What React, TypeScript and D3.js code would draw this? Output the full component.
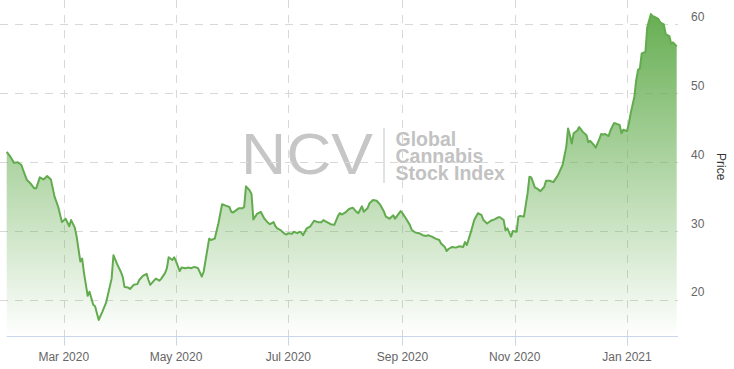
import React from "react";
import * as d3 from "d3";

const dates: string[] = [
  "2020-01-30","2020-02-01","2020-02-03","2020-02-05","2020-02-07","2020-02-08","2020-02-10","2020-02-12","2020-02-14","2020-02-15",
  "2020-02-17","2020-02-19","2020-02-21","2020-02-23","2020-02-25","2020-02-27","2020-02-29","2020-03-02","2020-03-04","2020-03-05",
  "2020-03-07","2020-03-08","2020-03-10","2020-03-11","2020-03-12","2020-03-14","2020-03-15","2020-03-17","2020-03-18","2020-03-20",
  "2020-03-22","2020-03-24","2020-03-27","2020-03-28","2020-03-30","2020-04-01","2020-04-02","2020-04-03","2020-04-05","2020-04-06",
  "2020-04-08","2020-04-10","2020-04-11","2020-04-13","2020-04-15","2020-04-16","2020-04-17","2020-04-19","2020-04-20","2020-04-22",
  "2020-04-23","2020-04-25","2020-04-26","2020-04-27","2020-04-29","2020-04-30","2020-05-01","2020-05-03","2020-05-04","2020-05-06",
  "2020-05-08","2020-05-09","2020-05-11","2020-05-13","2020-05-15","2020-05-16","2020-05-19","2020-05-20","2020-05-22","2020-05-24",
  "2020-05-26","2020-05-28","2020-05-30","2020-05-31","2020-06-01","2020-06-02","2020-06-04","2020-06-06","2020-06-07","2020-06-08",
  "2020-06-10","2020-06-11","2020-06-12","2020-06-14","2020-06-16","2020-06-18","2020-06-20","2020-06-21","2020-06-23","2020-06-24",
  "2020-06-25","2020-06-27","2020-06-29","2020-06-30","2020-07-01","2020-07-03","2020-07-04","2020-07-06","2020-07-07","2020-07-08",
  "2020-07-09","2020-07-11","2020-07-13","2020-07-15","2020-07-17","2020-07-19","2020-07-20","2020-07-22","2020-07-24","2020-07-26",
  "2020-07-28","2020-07-29","2020-07-30","2020-08-01","2020-08-03","2020-08-05","2020-08-07","2020-08-08","2020-08-10","2020-08-11",
  "2020-08-13","2020-08-14","2020-08-16","2020-08-18","2020-08-20","2020-08-22","2020-08-23","2020-08-25","2020-08-27","2020-08-28",
  "2020-08-31","2020-09-01","2020-09-03","2020-09-05","2020-09-06","2020-09-08","2020-09-10","2020-09-12","2020-09-14","2020-09-15",
  "2020-09-17","2020-09-19","2020-09-21","2020-09-22","2020-09-24","2020-09-25","2020-09-26","2020-09-28","2020-09-30","2020-10-02",
  "2020-10-04","2020-10-05","2020-10-06","2020-10-08","2020-10-10","2020-10-12","2020-10-14","2020-10-15","2020-10-17","2020-10-19",
  "2020-10-21","2020-10-23","2020-10-24","2020-10-26","2020-10-27","2020-10-28","2020-10-30","2020-10-31","2020-11-02","2020-11-03",
  "2020-11-04","2020-11-06","2020-11-08","2020-11-09","2020-11-10","2020-11-12","2020-11-13","2020-11-15","2020-11-17","2020-11-18",
  "2020-11-20","2020-11-22","2020-11-24","2020-11-25","2020-11-27","2020-11-29","2020-11-30","2020-12-01","2020-12-02","2020-12-03",
  "2020-12-05","2020-12-06","2020-12-08","2020-12-10","2020-12-11","2020-12-12","2020-12-14","2020-12-15","2020-12-17","2020-12-18",
  "2020-12-19","2020-12-20","2020-12-22","2020-12-23","2020-12-25","2020-12-26","2020-12-28","2020-12-29","2020-12-30","2021-01-01",
  "2021-01-02","2021-01-03","2021-01-05","2021-01-06","2021-01-07","2021-01-08","2021-01-09","2021-01-11","2021-01-12","2021-01-14",
  "2021-01-15","2021-01-16","2021-01-18","2021-01-19","2021-01-21","2021-01-22","2021-01-24","2021-01-25","2021-01-26","2021-01-28",
];

const prices: number[] = [
  41.5, 40.8, 39.9, 40.0, 39.6, 38.8, 37.4, 36.9, 36.2, 36.2,
  37.8, 37.5, 38.0, 37.5, 35.0, 33.5, 31.3, 31.8, 30.7, 31.6,
  30.5, 29.2, 25.6, 26.0, 23.9, 20.6, 21.2, 19.3, 19.1, 17.1,
  18.3, 19.6, 23.1, 26.5, 25.2, 24.1, 23.4, 21.9, 21.8, 21.6,
  22.2, 22.3, 22.9, 23.5, 23.8, 22.9, 22.2, 22.8, 23.1, 22.8,
  23.1, 23.9, 24.6, 26.2, 25.8, 26.2, 25.6, 24.2, 24.7, 24.6,
  24.7, 24.6, 24.8, 24.6, 23.4, 24.1, 28.9, 28.7, 28.9, 31.1,
  33.9, 33.7, 33.5, 32.8, 32.7, 32.9, 33.3, 33.3, 33.5, 36.5,
  35.9, 35.4, 31.7, 32.5, 32.8, 31.8, 31.2, 31.0, 31.3, 30.7,
  30.4, 30.1, 29.6, 29.5, 29.7, 29.6, 29.9, 29.7, 29.9, 29.8,
  29.4, 30.4, 30.7, 31.5, 31.3, 31.3, 31.6, 31.3, 31.0, 30.9,
  32.2, 32.6, 32.4, 32.7, 33.2, 33.4, 32.8, 32.6, 33.6, 32.8,
  33.3, 34.0, 34.5, 34.4, 33.8, 32.8, 32.1, 31.8, 32.3, 31.8,
  32.9, 32.6, 31.8, 30.9, 30.2, 29.8, 29.7, 29.4, 29.3, 29.4,
  29.2, 28.9, 28.7, 28.2, 27.7, 27.1, 27.4, 27.7, 27.6, 27.8,
  27.7, 28.4, 28.0, 29.7, 31.6, 32.6, 32.3, 31.6, 31.1, 31.5,
  31.7, 32.0, 32.0, 31.6, 30.1, 30.4, 29.2, 30.0, 29.9, 32.1,
  32.2, 32.1, 35.5, 37.9, 37.8, 36.3, 36.2, 35.8, 36.4, 37.3,
  37.3, 37.1, 37.9, 38.4, 39.6, 42.2, 44.9, 43.9, 42.7, 44.2,
  44.6, 45.1, 44.4, 43.9, 42.9, 43.1, 42.5, 42.1, 43.4, 44.1,
  44.0, 44.1, 43.8, 44.6, 45.7, 45.6, 45.4, 44.2, 44.7, 44.5,
  45.6, 47.1, 49.5, 51.9, 53.4, 53.6, 55.8, 56.0, 59.6, 61.5,
  61.2, 61.1, 60.8, 60.3, 60.0, 58.6, 58.3, 57.2, 57.4, 56.8,
];

const yTicks: number[] = [20, 30, 40, 50, 60];
const yDomain: number[] = [14.7, 63.54];
const xDomain: string[] = ["2020-01-30", "2021-01-28"];
const yAxisTitle = "Price";
const watermarkBig = "NCV";
const watermarkLines: string[] = ["Global", "Cannabis", "Stock Index"];

const W = 734;
const H = 369;
const plotLeft = 6.7;
const plotRight = 676.7;
const plotTop = 0;
const plotBottom = 336.5;
const FONT = "'Liberation Sans', Arial, Helvetica, sans-serif";

export default function App() {
  const parse = d3.utcParse("%Y-%m-%d");
  const n = Math.min(dates.length, prices.length);
  const data = d3.range(n).map((i) => ({ d: parse(dates[i]) as Date, v: prices[i] }));

  const x = d3
    .scaleUtc()
    .domain([parse(xDomain[0]) as Date, parse(xDomain[1]) as Date])
    .range([plotLeft, plotRight]);
  const y = d3.scaleLinear().domain(yDomain).range([plotBottom, plotTop]);

  const xTicks = x.ticks(d3.utcMonth.every(2) as any);
  const fmt = d3.utcFormat("%b %Y");

  const line = d3
    .line<{ d: Date; v: number }>()
    .x((p) => x(p.d))
    .y((p) => y(p.v));
  const area = d3
    .area<{ d: Date; v: number }>()
    .x((p) => x(p.d))
    .y0(plotBottom)
    .y1((p) => y(p.v));

  const maxV = d3.max(data, (p) => p.v) as number;
  const gridColor = "#d8d8d8";
  const dash = "8,7";

  return (
    <svg
      width={W}
      height={H}
      style={{ position: "absolute", left: 0, top: 0, background: "#fff" }}
      fontFamily={FONT}
    >
      <defs>
        <linearGradient id="areaGrad" gradientUnits="userSpaceOnUse" x1={0} y1={y(maxV)} x2={0} y2={plotBottom}>
          <stop offset="0" stopColor="#64ad4f" stopOpacity={0.98} />
          <stop offset="1" stopColor="#64ad4f" stopOpacity={0} />
        </linearGradient>
      </defs>

      {/* watermark */}
      <g>
        <text
          x={241}
          y={173.5}
          fontSize={58}
          fill="#c6c6c6"
          textLength={132}
          lengthAdjust="spacingAndGlyphs"
        >
          {watermarkBig}
        </text>
        <line x1={384} x2={384} y1={128} y2={183} stroke="#cfcfcf" strokeWidth={1.2} />
        {watermarkLines.map((t, i) => (
          <text key={t} x={395.5} y={146 + i * 17} fontSize={19.5} fontWeight="bold" fill="#c2c2c2">
            {t}
          </text>
        ))}
      </g>

      {/* horizontal gridlines */}
      {yTicks.map((t) => (
        <line
          key={"h" + t}
          x1={0}
          x2={678}
          y1={Math.round(y(t)) + 0.5}
          y2={Math.round(y(t)) + 0.5}
          stroke={gridColor}
          strokeWidth={1}
          strokeDasharray={dash}
        />
      ))}
      {/* vertical gridlines */}
      {xTicks.map((t) => (
        <line
          key={"v" + +t}
          x1={Math.round(x(t)) + 0.5}
          x2={Math.round(x(t)) + 0.5}
          y1={0}
          y2={plotBottom}
          stroke={gridColor}
          strokeWidth={1}
          strokeDasharray={dash}
        />
      ))}

      {/* area + line */}
      <path d={area(data) as string} fill="url(#areaGrad)" />
      <path d={line(data) as string} fill="none" stroke="#62ab4e" strokeWidth={2} strokeLinejoin="round" />

      {/* x axis */}
      <line x1={plotLeft} x2={678} y1={plotBottom} y2={plotBottom} stroke="#ccd6eb" strokeWidth={1} />
      {xTicks.map((t) => (
        <g key={"xt" + +t}>
          <line
            x1={Math.round(x(t)) + 0.5}
            x2={Math.round(x(t)) + 0.5}
            y1={plotBottom}
            y2={plotBottom + 9}
            stroke="#ccd6eb"
          />
          <text x={x(t)} y={361} textAnchor="middle" fontSize={12} fill="#666">
            {fmt(t)}
          </text>
        </g>
      ))}

      {/* y axis labels (right) */}
      {yTicks.map((t) => (
        <text key={"yl" + t} x={691} y={y(t) - 3.5} fontSize={12} fill="#666">
          {t}
        </text>
      ))}
      <text
        transform="translate(717,166.7) rotate(90)"
        textAnchor="middle"
        fontSize={12}
        fill="#333"
      >
        {yAxisTitle}
      </text>
    </svg>
  );
}
